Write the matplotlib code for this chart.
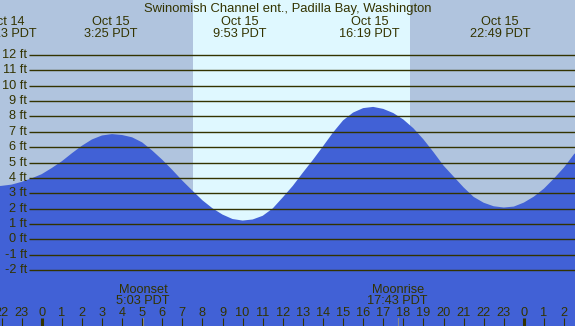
import matplotlib
matplotlib.use("Agg")
import matplotlib.pyplot as plt
import matplotlib.transforms as mtransforms

# --- data (hours relative to Oct 15 00:00 PDT) ---
tide_hours = [-2.1, -2.0, -1.5, -1.0, -0.5, 0.0, 0.5, 1.0, 1.5, 2.0, 2.5, 3.0,
              3.5, 4.0, 4.5, 5.0, 5.5, 6.0, 6.5, 7.0, 7.5, 8.0, 8.5, 9.0,
              9.5, 10.0, 10.5, 11.0, 11.5, 12.0, 12.5, 13.0, 13.5, 14.0, 14.5,
              15.0, 15.5, 16.0, 16.5, 17.0, 17.5, 18.0, 18.5, 19.0, 19.5, 20.0,
              20.5, 21.0, 21.5, 22.0, 22.5, 23.0, 23.5, 24.0, 24.5, 25.0, 25.5,
              26.0, 26.5, 26.6]
tide_ft = [3.47, 3.48, 3.56, 3.74, 3.97, 4.24, 4.64, 5.08, 5.60, 6.09, 6.50, 6.76,
           6.85, 6.79, 6.64, 6.31, 5.78, 5.18, 4.52, 3.82, 3.17, 2.54, 2.02, 1.61,
           1.32, 1.22, 1.29, 1.53, 2.01, 2.73, 3.48, 4.34, 5.17, 6.05, 6.95,
           7.74, 8.25, 8.54, 8.62, 8.49, 8.22, 7.80, 7.23, 6.51, 5.68, 4.80,
           4.09, 3.38, 2.76, 2.38, 2.15, 2.07, 2.13, 2.39, 2.78, 3.30, 3.96,
           4.68, 5.55, 5.65]

event_hours = [-1.78, 3.42, 9.88, 16.32, 22.82]
event_dates = ["Oct 14", "Oct 15", "Oct 15", "Oct 15", "Oct 15"]
event_times = ["22:13 PDT", "3:25 PDT", "9:53 PDT", "16:19 PDT", "22:49 PDT"]

moon_hours = [5.05, 17.72]
moon_names = ["Moonset", "Moonrise"]
moon_times = ["5:03 PDT", "17:43 PDT"]

sunrise, sunset = 7.52, 18.33
ft_levels = list(range(-2, 13))
hour_ticks = list(range(-2, 27))

TITLE = "Swinomish Channel ent., Padilla Bay, Washington"

# --- style ---
NIGHT = "#b0c4de"
DAY = "#dff8ff"
WATER = "#4161d6"
INK = "#333300"
W, H = 575, 326

plt.rcParams["font.family"] = ["Liberation Sans", "DejaVu Sans"]

fig = plt.figure(figsize=(W / 100, H / 100), dpi=100)
fig.patch.set_facecolor(NIGHT)
ax = fig.add_axes([0, 0, 1, 1])
ax.axis("off")

x0 = -41.7 / 20.09
ax.set_xlim(x0, x0 + W / 20.09)
ax.set_ylim((239.3 - H) / 15.36, 239.3 / 15.36)

ax.axvspan(sunrise, sunset, color=DAY, lw=0, zorder=0)
ax.fill_between(tide_hours, tide_ft, -10, color=WATER, lw=0, zorder=1)

# level lines and labels
xline = x0 + 29 / 20.09
ax.hlines(ft_levels, xline, x0 + W / 20.09 + 1, color=INK, lw=1.0, zorder=2)
for lv in ft_levels:
    ax.text(x0 + 27 / 20.09, lv, f"{lv} ft", ha="right", va="center",
            fontsize=9.2, color=INK, zorder=3)

# x in data, y in pixels from top
trans = mtransforms.blended_transform_factory(ax.transData, ax.transAxes)
def py(p):
    return 1 - p / H

ax.text(x0 + 288 / 20.09, py(11.7), TITLE, transform=trans, ha="center",
        va="baseline", fontsize=9.4, color=INK)

for h, d, t in zip(event_hours, event_dates, event_times):
    ax.text(h, py(25), d, transform=trans, ha="center", va="baseline",
            fontsize=9.2, color=INK)
    ax.text(h, py(37), t, transform=trans, ha="center", va="baseline",
            fontsize=9.2, color=INK)

for h, n, t in zip(moon_hours, moon_names, moon_times):
    ax.text(h, py(292.7), n, transform=trans, ha="center", va="baseline",
            fontsize=9.2, color=INK)
    ax.text(h, py(304), t, transform=trans, ha="center", va="baseline",
            fontsize=9.2, color=INK)
    ax.plot([h, h], [py(H), py(318)], transform=trans, color="#8a8a8a",
            lw=0.8, zorder=3)

for h in hour_ticks:
    ax.text(h, py(316), str(h % 24), transform=trans, ha="center",
            va="baseline", fontsize=9.2, color=INK)
    lw = 2.2 if h % 24 == 0 else 0.8
    ax.plot([h, h], [py(H), py(318)], transform=trans, color=INK, lw=lw,
            solid_capstyle="butt", zorder=4)

fig.savefig("out.png", dpi=100, facecolor=NIGHT)
